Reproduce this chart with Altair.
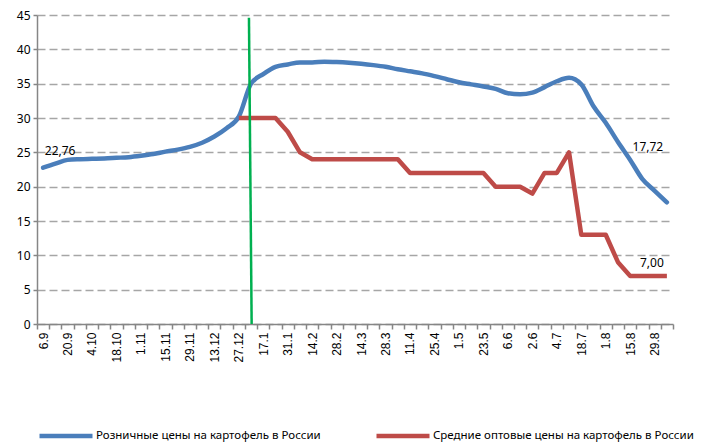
import altair as alt
import pandas as pd

x_labels = ["6.9", "20.9", "4.10", "18.10", "1.11", "15.11", "29.11", "13.12", "27.12",
            "17.1", "31.1", "14.2", "28.2", "14.3", "28.3", "11.4", "25.4", "1.5", "23.5",
            "6.6", "2.6", "4.7", "18.7", "1.8", "15.8", "29.8"]

retail = [22.76, 23.35, 23.9, 24.0, 24.05, 24.1, 24.2, 24.3, 24.5, 24.75, 25.1, 25.4, 25.8,
          26.4, 27.3, 28.5, 30.2, 35.0, 36.4, 37.45, 37.8, 38.1, 38.1, 38.2, 38.15, 38.05,
          37.9, 37.7, 37.45, 37.1, 36.8, 36.5, 36.1, 35.65, 35.2, 34.9, 34.6, 34.25, 33.6,
          33.45, 33.7, 34.5, 35.35, 35.85, 34.9, 31.7, 29.3, 26.5, 23.9, 21.1, 19.4, 17.72]

wholesale_start = 16
wholesale = [30, 30, 30, 30, 28, 25, 24, 24, 24, 24, 24, 24, 24, 24, 22, 22, 22, 22, 22, 22,
             22, 20, 20, 20, 19, 22, 22, 25, 13, 13, 13, 9, 7, 7, 7, 7]

series_names = ["Розничные цены на картофель в России",
                "Средние оптовые цены на картофель в России"]
series_colors = ["#4A7EBB", "#BE4B48"]

# annotation labels
label_texts = ["22,76", "17,72", "7,00"]
label_idx = [0, 51, 51]
label_vals = [22.76, 17.72, 7.00]

# green marker line (category position, value)
marker_x = [16.83]
marker_x2 = [17.05]
marker_y = [44.6]
marker_y2 = [0]

n = len(retail)
df_r = pd.DataFrame({"idx": list(range(n)), "value": retail, "series": series_names[0]})
df_w = pd.DataFrame({"idx": list(range(wholesale_start, wholesale_start + len(wholesale))),
                     "value": wholesale, "series": series_names[1]})
df_lab = pd.DataFrame({"idx": label_idx, "value": label_vals, "text": label_texts})
df_mark = pd.DataFrame({"x": marker_x, "x2": marker_x2, "y": marker_y, "y2": marker_y2})

arr = "[" + ",".join("'" + s + "'" for s in x_labels) + "]"
label_expr = ("((datum.value + 0.5) % 2 == 0 && datum.value < " + str(n - 1) + ") ? "
              + arr + "[(datum.value + 0.5) / 2] : ''")

x_scale = alt.Scale(domain=[-0.5, n - 0.5], nice=False, zero=False)
y_scale = alt.Scale(domain=[0, 45], nice=False)

x_axis = alt.Axis(values=[i - 0.5 for i in range(n + 1)], labelExpr=label_expr,
                  labelAngle=-90, labelOffset=6, labelFont="Liberation Sans",
                  labelFontSize=12, labelColor="#000000", labelPadding=3,
                  tickSize=5, tickColor="#868686", tickWidth=1.5,
                  domainColor="#868686", domainWidth=1.5, grid=False, title=None,
                  labelOverlap=False, labelFlush=False)
y_axis = alt.Axis(values=list(range(0, 46, 5)), labelFont="Noto Sans", labelFontSize=12,
                  labelColor="#000000", labelPadding=3, tickSize=4, tickColor="#868686",
                  tickWidth=1.5, domainColor="#868686", domainWidth=1.5,
                  grid=True, gridColor="#A6A6A6", gridDash=[8, 4], gridWidth=1.5,
                  title=None, labelOverlap=False)


def xq(field):
    return alt.X(field, scale=x_scale, axis=x_axis)


def yq(field):
    return alt.Y(field, scale=y_scale, axis=y_axis)


color = alt.Color("series:N",
                  scale=alt.Scale(domain=series_names, range=series_colors),
                  legend=alt.Legend(title=None, orient="none", legendX=0, legendY=392,
                                    direction="horizontal", symbolType="stroke",
                                    symbolSize=2809, symbolStrokeWidth=4.5,
                                    labelFont="Noto Sans", labelFontSize=11.5,
                                    labelColor="#000000", labelOffset=1,
                                    columnPadding=46, labelLimit=400))

retail_line = alt.Chart(df_r).mark_line(strokeWidth=4.5, strokeCap="round",
                                        strokeJoin="round", interpolate="monotone").encode(
    x=xq("idx:Q"), y=yq("value:Q"), color=color,
)
wholesale_line = alt.Chart(df_w).mark_line(strokeWidth=4.5, strokeCap="butt",
                                           strokeJoin="round").encode(
    x=xq("idx:Q"), y=yq("value:Q"), color=color,
)
marker = alt.Chart(df_mark).mark_rule(color="#00B050", strokeWidth=2.5).encode(
    x=xq("x:Q"), x2="x2:Q", y=yq("y:Q"), y2="y2:Q",
)

offsets = [(17, -17), (-19, -55), (-15, -13)]
texts = []
for i, (dx, dy) in enumerate(offsets):
    texts.append(alt.Chart(df_lab.iloc[[i]]).mark_text(
        dx=dx, dy=dy, font="Noto Sans", fontSize=12, color="#000000",
        align="center", baseline="middle").encode(
        x=xq("idx:Q"), y=yq("value:Q"), text="text:N",
    ))

chart = alt.layer(retail_line, wholesale_line, marker, *texts).properties(
    width=636, height=309,
    autosize=alt.AutoSizeParams(type="none"),
    padding={"left": 29, "top": 7, "right": 22, "bottom": 120},
    background="white",
).configure_view(stroke=None)

chart.save("out.html", embed_options={"renderer": "svg", "actions": False})
